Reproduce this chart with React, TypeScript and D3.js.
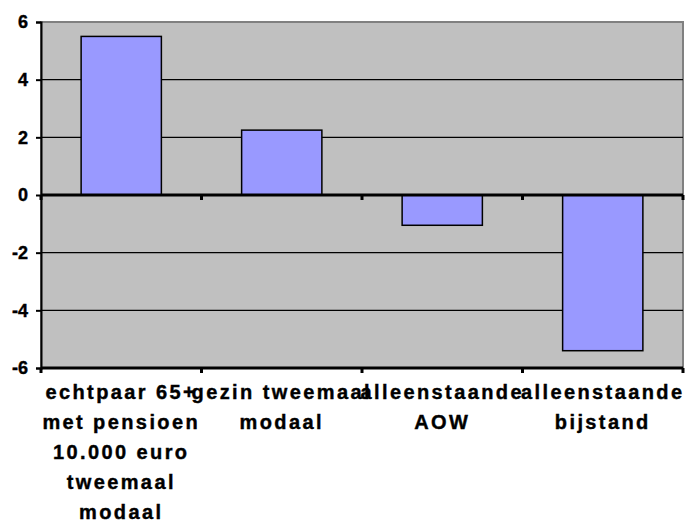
import { useRef, useEffect } from 'react';
import * as d3 from 'd3';

const categories = ['echtpaar', 'gezin', 'aow', 'bijstand'];
const labelLines = [
  ['echtpaar 65+', 'met pensioen', '10.000 euro', 'tweemaal', 'modaal'],
  ['gezin tweemaal', 'modaal'],
  ['alleenstaande', 'AOW'],
  ['alleenstaande', 'bijstand'],
];
const values = [5.5, 2.25, -1.05, -5.4];
const yTicks = [-6, -4, -2, 0, 2, 4, 6];

const W = 686;
const H = 522;
const FONT = '"Liberation Sans", Arial, sans-serif';

export default function App() {
  const svgRef = useRef(null);

  useEffect(() => {
    const svg = d3.select(svgRef.current);
    svg.selectAll('*').remove();

    const left = 41, right = 683, top = 22, bottom = 368;

    const x = d3.scaleBand().domain(categories).range([left, right]).paddingInner(0).paddingOuter(0);
    const y = d3.scaleLinear().domain([-6, 6]).range([bottom, top]);
    const barW = x.bandwidth() * 0.5;

    // plot background
    svg.append('rect')
      .attr('x', left).attr('y', top)
      .attr('width', right - left).attr('height', bottom - top)
      .attr('fill', '#c0c0c0')
      .attr('stroke', '#808080')
      .attr('stroke-width', 2);

    // gridlines
    svg.selectAll('.grid')
      .data(yTicks.filter((t) => t !== 0 && t !== -6 && t !== 6))
      .join('line')
      .attr('x1', left).attr('x2', right)
      .attr('y1', (d) => y(d)).attr('y2', (d) => y(d))
      .attr('stroke', '#000')
      .attr('stroke-width', 1.2);

    // bars
    svg.selectAll('.bar')
      .data(values)
      .join('rect')
      .attr('x', (_, i) => x(categories[i]) + (x.bandwidth() - barW) / 2)
      .attr('y', (d) => y(Math.max(0, d)))
      .attr('width', barW)
      .attr('height', (d) => Math.abs(y(d) - y(0)))
      .attr('fill', '#9999ff')
      .attr('stroke', '#000')
      .attr('stroke-width', 1.5);

    // zero line and bottom line with category ticks
    [0, -6].forEach((v) => {
      svg.append('line')
        .attr('x1', left).attr('x2', right)
        .attr('y1', y(v)).attr('y2', y(v))
        .attr('stroke', '#000').attr('stroke-width', 3);
      const bounds = categories.map((c) => x(c)).concat([right]);
      svg.selectAll(null)
        .data(bounds)
        .join('line')
        .attr('x1', (d) => d).attr('x2', (d) => d)
        .attr('y1', y(v)).attr('y2', y(v) + 5)
        .attr('stroke', '#000').attr('stroke-width', 3);
    });

    // left axis
    const yAxis = svg.append('g')
      .attr('transform', `translate(${left},0)`)
      .call(d3.axisLeft(y).tickValues(yTicks).tickSize(5).tickPadding(8).tickFormat((d) => String(d)));
    yAxis.attr('font-family', null).attr('font-size', null);
    yAxis.select('.domain').attr('stroke', '#000').attr('stroke-width', 2);
    yAxis.selectAll('.tick line').attr('stroke', '#000').attr('stroke-width', 2);
    yAxis.selectAll('.tick text')
      .attr('fill', '#000')
      .attr('font-family', FONT)
      .attr('font-weight', 700)
      .attr('font-size', 18)
      .attr('stroke', '#000')
      .attr('stroke-width', 0.4);

    // category labels
    labelLines.forEach((lines, i) => {
      const cx = x(categories[i]) + x.bandwidth() / 2;
      svg.selectAll(null)
        .data(lines)
        .join('text')
        .attr('x', cx)
        .attr('y', (_, j) => 399 + j * 30)
        .attr('text-anchor', 'middle')
        .attr('font-family', FONT)
        .attr('font-weight', 700)
        .attr('font-size', 20)
        .attr('letter-spacing', 2.4)
        .attr('fill', '#000')
        .attr('stroke', '#000')
        .attr('stroke-width', 0.4)
        .text((d) => d);
    });
  }, []);

  return (
    <svg
      ref={svgRef}
      width={W}
      height={H}
      style={{ position: 'absolute', left: 0, top: 0, background: '#fff' }}
    />
  );
}
